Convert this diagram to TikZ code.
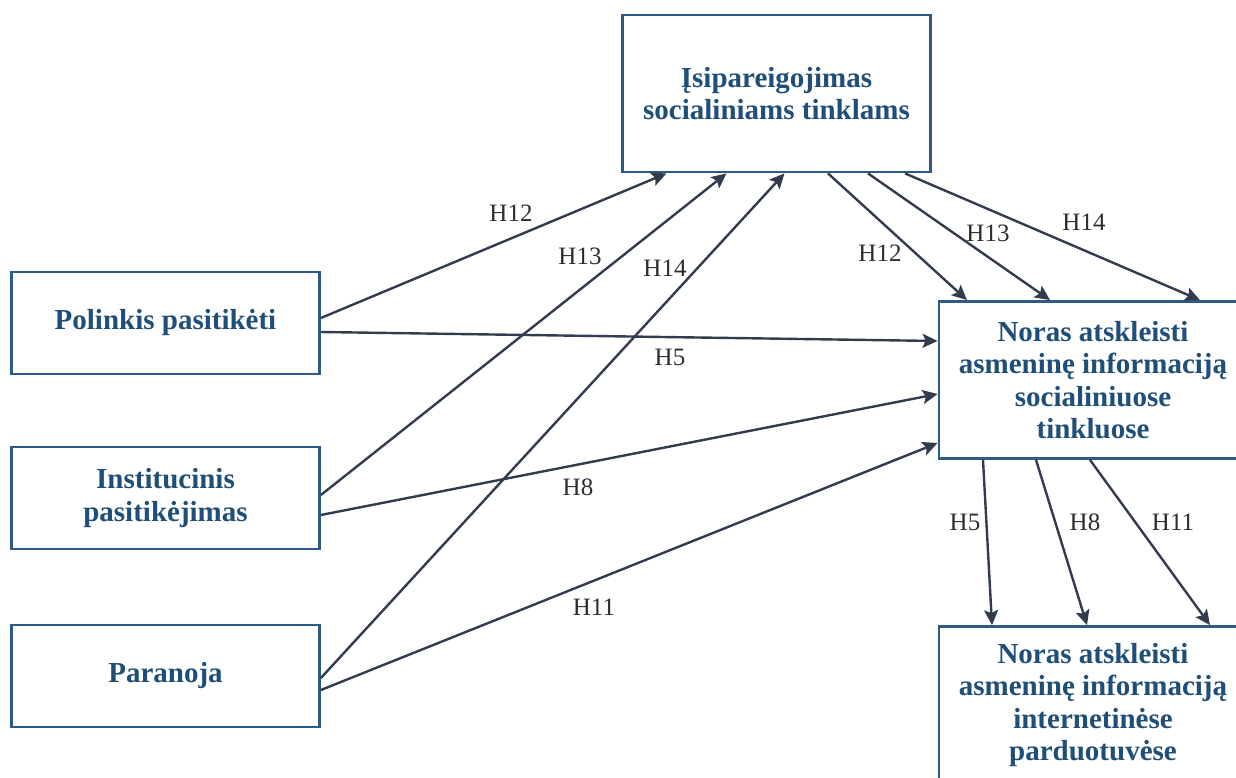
\documentclass[tikz,border=0pt]{standalone}
\usepackage{fontspec}
\setmainfont{Liberation Serif}
\usetikzlibrary{arrows.meta}
\definecolor{boxblue}{RGB}{46,90,134}
\definecolor{textblue}{RGB}{31,78,121}
\definecolor{linecol}{RGB}{50,60,78}
\definecolor{labcol}{RGB}{45,45,45}
\begin{document}
\begin{tikzpicture}[x=1pt,y=-1pt,
  box/.style={draw=boxblue,line width=2.8pt,fill=white,align=center,
    text=textblue,font=\fontsize{29}{32.5}\selectfont\bfseries,
    minimum width=308pt,inner sep=0pt},
  smallbox/.style={box,minimum height=102pt},
  bigbox/.style={box,minimum height=157pt},
  arr/.style={draw=linecol,line width=2.4pt,
    -{Stealth[length=15pt,width=14pt,inset=3pt]}},
  lab/.style={text=labcol,font=\fontsize{25}{28}\selectfont,inner sep=0pt}]
\useasboundingbox (0,0) rectangle (1236,778);
\clip (0,0) rectangle (1236,778);

% constructs
\node[bigbox]   (tb)   at (776.5,93.5) {Įsipareigojimas\\socialiniams tinklams};
\node[smallbox] (pol)  at (165.5,323)  {Polinkis pasitikėti};
\node[smallbox] (inst) at (165.5,498)  {Institucinis\\pasitikėjimas};
\node[smallbox] (para) at (165.5,676)  {Paranoja};
\node[bigbox]   (n1)   at (1093,380)   {Noras atskleisti\\asmeninę informaciją\\socialiniuose\\tinkluose};
\node[bigbox]   (n2)   at (1093,705)   {Noras atskleisti\\asmeninę informaciją\\internetinėse\\parduotuvėse};

% paths into the commitment construct
\draw[arr] ([yshift=5pt]pol.east)   -- ([xshift=-110pt]tb.south);
\draw[arr] ([yshift=3pt]inst.east)  -- ([xshift=-50pt]tb.south);
\draw[arr] ([yshift=-2pt]para.east) -- ([xshift=8pt]tb.south);

% direct paths to disclosure on social networks
\draw[arr] ([yshift=-9pt]pol.east)   -- ([yshift=39pt]n1.west);
\draw[arr] ([yshift=-17pt]inst.east) -- ([yshift=-14pt]n1.west);
\draw[arr] ([yshift=-14pt]para.east) -- ([yshift=-63pt]n1.west);

% commitment to disclosure on social networks
\draw[arr] ([xshift=51.5pt]tb.south)  -- ([xshift=-126pt]n1.north);
\draw[arr] ([xshift=91.5pt]tb.south)  -- ([xshift=-43pt]n1.north);
\draw[arr] ([xshift=128.5pt]tb.south) -- ([xshift=107pt]n1.north);

% social networks to online shops
\draw[arr] ([xshift=-110pt]n1.south) -- ([xshift=-101pt]n2.north);
\draw[arr] ([xshift=-57pt]n1.south)  -- ([xshift=-6pt]n2.north);
\draw[arr] ([xshift=-3pt]n1.south)   -- ([xshift=117pt]n2.north);

% hypothesis labels
\node[lab] (l12a) at (511,213) {H12};
\node[lab] (l13a) at (580,256) {H13};
\node[lab] (l14a) at (665,268) {H14};
\node[lab] (l5a)  at (670,357) {H5};
\node[lab] (l8a)  at (578,487) {H8};
\node[lab] (l11a) at (594,607) {H11};
\node[lab] (l12b) at (880,253) {H12};
\node[lab] (l13b) at (988,233) {H13};
\node[lab] (l14b) at (1084,222) {H14};
\node[lab] (l5b)  at (965,522) {H5};
\node[lab] (l8b)  at (1085,522) {H8};
\node[lab] (l11b) at (1173,522) {H11};
\end{tikzpicture}
\end{document}
